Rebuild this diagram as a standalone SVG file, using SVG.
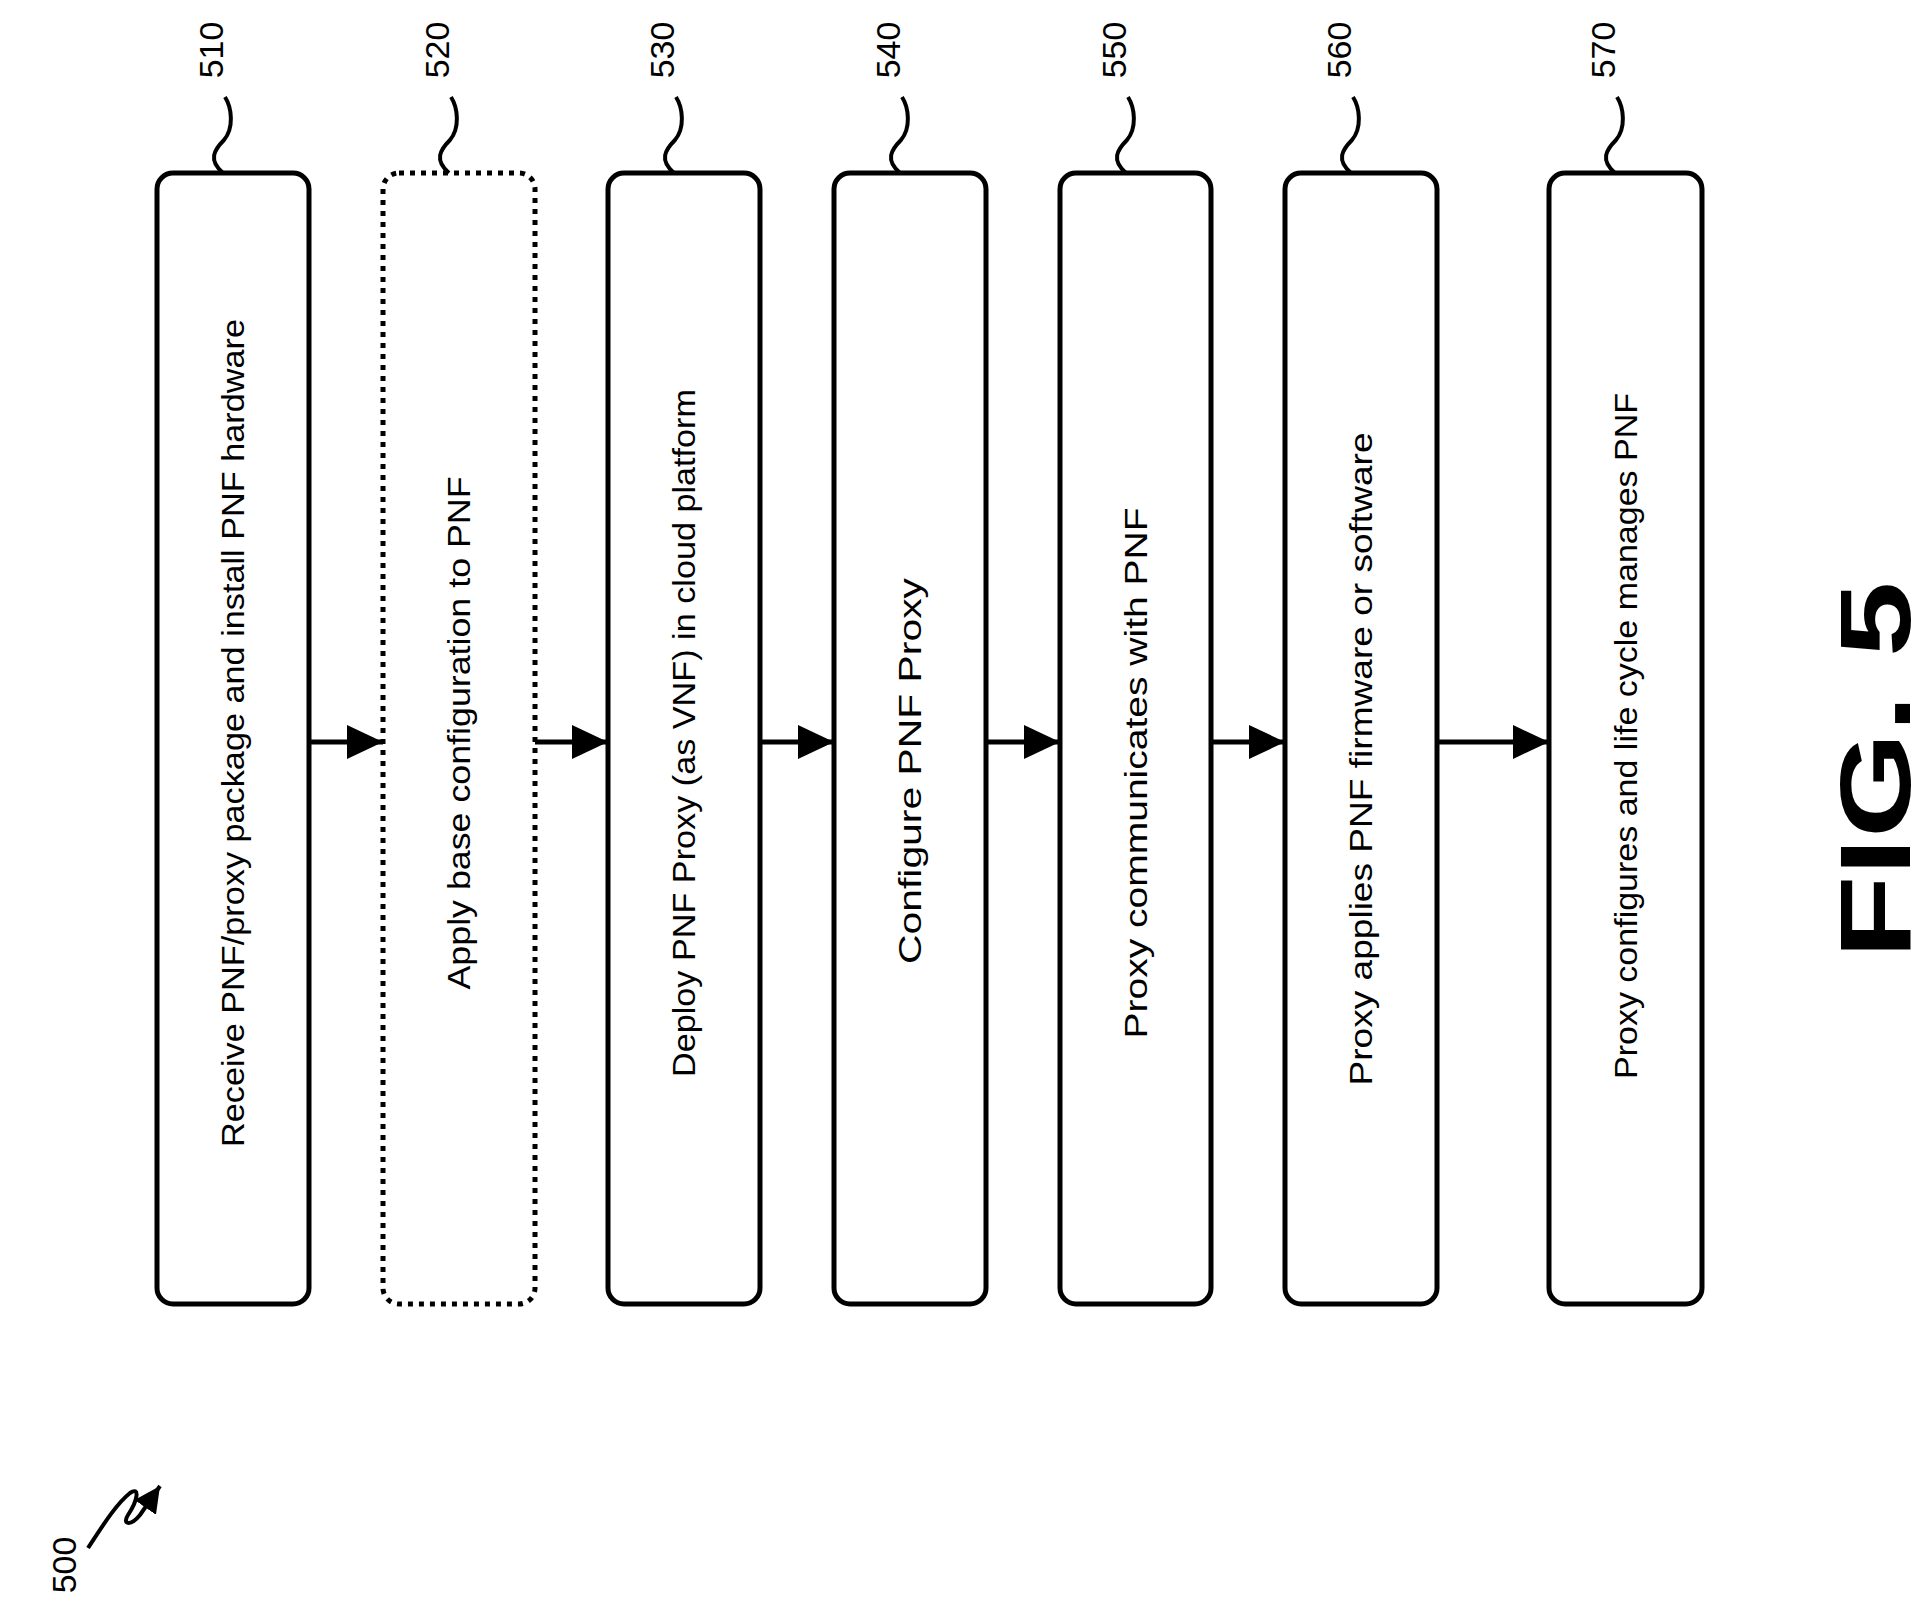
<svg xmlns="http://www.w3.org/2000/svg" width="1928" height="1612" viewBox="0 0 1928 1612">
<style>
.box{fill:#fff;stroke:#000;stroke-width:5}
.dot{stroke-dasharray:5 6}
.t{font-family:"Liberation Sans",Arial,sans-serif;font-size:32px;fill:#000;text-anchor:middle;dominant-baseline:central}
.ref{font-family:"Liberation Sans",Arial,sans-serif;font-size:34px;fill:#000;text-anchor:middle;dominant-baseline:central}
.lead{fill:none;stroke:#000;stroke-width:4}
.conn{stroke:#000;stroke-width:5;fill:none}
</style>
<defs>
<marker id="ah" markerWidth="36" markerHeight="34" refX="36" refY="17" orient="auto" markerUnits="userSpaceOnUse" viewBox="0 0 36 34"><path d="M0,0 L36,17 L0,34 Z" fill="#000"/></marker>
<marker id="ah2" markerWidth="26" markerHeight="26" refX="26" refY="13" orient="auto" markerUnits="userSpaceOnUse" viewBox="0 0 26 26"><path d="M0,0 L26,13 L0,26 Z" fill="#000"/></marker>
<path id="ld" d="M0,0 C-15,-13 -9,-23 1,-33 C11,-45 9,-65 2,-76"/>
</defs>
<g id="n510"><rect class="box" x="157" y="173" width="152" height="1131" rx="16"/><text class="t" textLength="828" lengthAdjust="spacingAndGlyphs" transform="translate(233,733) rotate(-90)">Receive PNF/proxy package and install PNF hardware</text><use href="#ld" class="lead" x="223" y="173"/><text class="ref" transform="translate(211,50) rotate(-90)">510</text></g>
<g id="n520"><rect class="box dot" x="383" y="173" width="152" height="1131" rx="16"/><text class="t" textLength="513" lengthAdjust="spacingAndGlyphs" transform="translate(459,733) rotate(-90)">Apply base configuration to PNF</text><use href="#ld" class="lead" x="449" y="173"/><text class="ref" transform="translate(437,50) rotate(-90)">520</text></g>
<g id="n530"><rect class="box" x="608" y="173" width="152" height="1131" rx="16"/><text class="t" textLength="688" lengthAdjust="spacingAndGlyphs" transform="translate(684,733) rotate(-90)">Deploy PNF Proxy (as VNF) in cloud platform</text><use href="#ld" class="lead" x="674" y="173"/><text class="ref" transform="translate(662,50) rotate(-90)">530</text></g>
<g id="n540"><rect class="box" x="834" y="173" width="152" height="1131" rx="16"/><text class="t" textLength="386" lengthAdjust="spacingAndGlyphs" transform="translate(910,771) rotate(-90)">Configure PNF Proxy</text><use href="#ld" class="lead" x="900" y="173"/><text class="ref" transform="translate(888,50) rotate(-90)">540</text></g>
<g id="n550"><rect class="box" x="1060" y="173" width="151" height="1131" rx="16"/><text class="t" textLength="531" lengthAdjust="spacingAndGlyphs" transform="translate(1136,773) rotate(-90)">Proxy communicates with PNF</text><use href="#ld" class="lead" x="1126" y="173"/><text class="ref" transform="translate(1114,50) rotate(-90)">550</text></g>
<g id="n560"><rect class="box" x="1285" y="173" width="152" height="1131" rx="16"/><text class="t" textLength="653" lengthAdjust="spacingAndGlyphs" transform="translate(1361,759) rotate(-90)">Proxy applies PNF firmware or software</text><use href="#ld" class="lead" x="1351" y="173"/><text class="ref" transform="translate(1339,50) rotate(-90)">560</text></g>
<g id="n570"><rect class="box" x="1549" y="173" width="153" height="1131" rx="16"/><text class="t" textLength="686" lengthAdjust="spacingAndGlyphs" transform="translate(1626,736) rotate(-90)">Proxy configures and life cycle manages PNF</text><use href="#ld" class="lead" x="1615" y="173"/><text class="ref" transform="translate(1603,50) rotate(-90)">570</text></g>
<g id="connectors">
<path class="conn" d="M309,742 H383" marker-end="url(#ah)"/>
<path class="conn" d="M535,742 H608" marker-end="url(#ah)"/>
<path class="conn" d="M760,742 H834" marker-end="url(#ah)"/>
<path class="conn" d="M986,742 H1060" marker-end="url(#ah)"/>
<path class="conn" d="M1211,742 H1285" marker-end="url(#ah)"/>
<path class="conn" d="M1437,742 H1549" marker-end="url(#ah)"/>
</g>
<g id="label500">
<text class="ref" transform="translate(64,1565) rotate(-90)">500</text>
<path class="lead" d="M88,1548 C100,1530 115,1505 130,1493 C140,1486 138,1500 128,1515 C122,1524 130,1527 140,1515 L160,1486" marker-end="url(#ah2)"/>
</g>
<text id="fig" font-family="Liberation Sans,Arial,sans-serif" font-weight="bold" font-size="100" text-anchor="middle" dominant-baseline="central" transform="translate(1875,770) rotate(-90)" textLength="377" lengthAdjust="spacingAndGlyphs">FIG. 5</text>
</svg>
